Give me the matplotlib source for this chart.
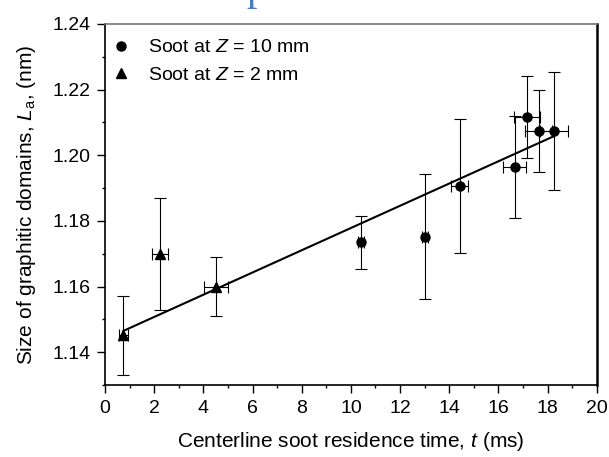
import matplotlib
matplotlib.use('agg')
import matplotlib.pyplot as plt
from matplotlib.ticker import MultipleLocator, FormatStrFormatter

plt.rcParams['font.family'] = ['Liberation Sans', 'DejaVu Sans']
plt.rcParams['mathtext.fontset'] = 'custom'
plt.rcParams['mathtext.rm'] = 'Liberation Sans'
plt.rcParams['mathtext.it'] = 'Liberation Sans:italic'

# soot at Z = 10 mm (circles)
t_10 = [10.4, 13.0, 14.43, 16.67, 17.15, 17.64, 18.25]
La_10 = [1.1735, 1.1752, 1.1906, 1.1965, 1.2118, 1.2075, 1.2073]
yerr_10 = [0.0080, 0.0190, 0.0205, 0.0155, 0.0125, 0.0125, 0.0180]
xerr_10 = [0.12, 0.12, 0.34, 0.47, 0.53, 0.55, 0.57]

# soot at Z = 2 mm (triangles)
t_2 = [0.75, 2.24, 4.5]
La_2 = [1.1452, 1.1700, 1.1600]
yerr_2 = [0.0120, 0.0170, 0.0090]
xerr_2 = [0.20, 0.32, 0.49]

# linear fit line endpoints
fit_t = [0.75, 18.25]
fit_La = [1.1465, 1.2058]

fig = plt.figure(figsize=(6.09, 4.57), dpi=100)
ax = fig.add_axes([0.1724, 0.1575, 0.8076, 0.79])

ax.plot(fit_t, fit_La, color='black', lw=1.5, zorder=2)

ax.errorbar(t_10, La_10, yerr=yerr_10, xerr=xerr_10, fmt='o', color='black',
            ms=6.5, elinewidth=0.8, capsize=4.5, capthick=0.8, zorder=3,
            label='Soot at $\\it{Z}$ = 10 mm')
ax.errorbar(t_2, La_2, yerr=yerr_2, xerr=xerr_2, fmt='^', color='black',
            ms=7, elinewidth=0.8, capsize=4.5, capthick=0.8, zorder=3,
            label='Soot at $\\it{Z}$ = 2 mm')

ax.set_xlim(0, 20)
ax.set_ylim(1.13, 1.24)
ax.xaxis.set_major_locator(MultipleLocator(2))
ax.xaxis.set_minor_locator(MultipleLocator(1))
ax.yaxis.set_major_locator(MultipleLocator(0.02))
ax.yaxis.set_minor_locator(MultipleLocator(0.01))
ax.yaxis.set_major_formatter(FormatStrFormatter('%.2f'))
ax.tick_params(which='major', direction='out', length=5.5, width=1, labelsize=14, pad=5)
ax.tick_params(which='minor', direction='out', length=2.5, width=1)

for s in ['left', 'bottom']:
    ax.spines[s].set_linewidth(1.2)
ax.spines['right'].set_linewidth(1.8)
ax.spines['top'].set_linewidth(1.2)
ax.spines['top'].set_color('#777777')

ax.set_xlabel('Centerline soot residence time, $\\it{t}$ (ms)', fontsize=15, labelpad=10)
ax.set_ylabel('Size of graphitic domains, $\\it{L}_{\\rm{a}}$, (nm)', fontsize=15, labelpad=10)

handles, labels = ax.get_legend_handles_labels()
handles = [h[0] for h in handles]
ax.legend(handles, labels, loc='upper left', frameon=False, fontsize=14,
          handletextpad=0.9, borderaxespad=0.0, borderpad=0.3, labelspacing=0.5,
          handlelength=1.0, bbox_to_anchor=(0.0, 0.975))

fig.text(257 / 609, 1.0, 'p', color='#4a7ebb', family='Liberation Serif',
         fontsize=30, ha='center', va='baseline')

fig.savefig('out.png', dpi=100)
